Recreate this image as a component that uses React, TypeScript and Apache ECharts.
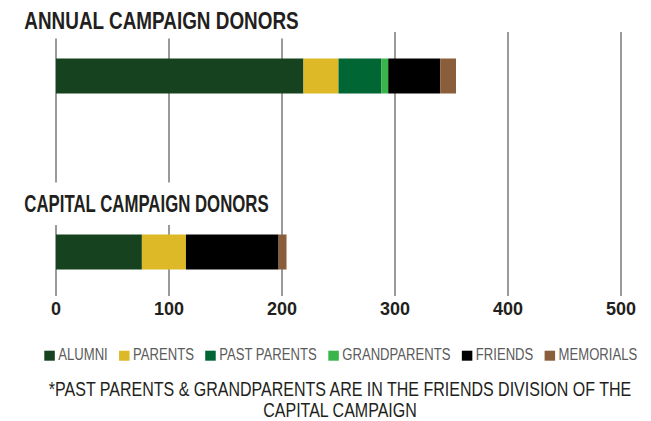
import React, { useEffect, useRef } from "react";
import * as echarts from "echarts";

const categories = ["ANNUAL CAMPAIGN DONORS", "CAPITAL CAMPAIGN DONORS"];
const seriesNames = ["ALUMNI", "PARENTS", "PAST PARENTS", "GRANDPARENTS", "FRIENDS", "MEMORIALS"];
const alumni = [219, 76];
const parents = [31, 39];
const pastParents = [38, 0];
const grandparents = [6, 0];
const friends = [46, 82];
const memorials = [14, 7];
const xTicks = [0, 100, 200, 300, 400, 500];
const footnoteLines = [
  "*PAST PARENTS & GRANDPARENTS ARE IN THE FRIENDS DIVISION OF THE",
  "CAPITAL CAMPAIGN",
];

const seriesValues = [alumni, parents, pastParents, grandparents, friends, memorials];
const colors = ["#164220", "#deb927", "#006634", "#3ab54a", "#000000", "#8a5d3b"];

// category axis slots: the two bars sit in slots 1 and 7 of a 9-slot band axis
const SLOT_COUNT = 9;
const categorySlots = [1, 7];

const FONT = '"Liberation Sans", Arial, sans-serif';

function measure(text: string, font: string): number {
  const ctx = document.createElement("canvas").getContext("2d");
  if (!ctx) return 1;
  ctx.font = font;
  return ctx.measureText(text).width;
}

export default function App() {
  const ref = useRef<HTMLDivElement>(null);

  useEffect(() => {
    document.body.style.margin = "0";
    if (!ref.current) return;
    const chart = echarts.init(ref.current, null, { renderer: "svg" });

    const slotLabels: string[] = Array(SLOT_COUNT).fill("");
    categorySlots.forEach((s, i) => (slotLabels[s] = categories[i]));

    const series = seriesNames.map((name, si) => {
      const data: (number | null)[] = Array(SLOT_COUNT).fill(null);
      categorySlots.forEach((s, ci) => (data[s] = seriesValues[si][ci]));
      return {
        name,
        type: "bar",
        stack: "total",
        barWidth: 35,
        data,
        itemStyle: { color: colors[si] },
        emphasis: { disabled: true },
      };
    });

    const graphics: any[] = [];

    // titles (with white backdrops that interrupt the grid lines, as in the original)
    const titleFont = `bold 24px ${FONT}`;
    const titleTargets = [
      { x: 24.3, y: 20.5, w: 275, rect: { x: 0, y: 0, width: 305, height: 38.5 } },
      { x: 24.3, y: 203.7, w: 245, rect: { x: 0, y: 182.5, width: 276, height: 42.5 } },
    ];
    categories.forEach((c, i) => {
      const t = titleTargets[i];
      graphics.push({
        type: "rect",
        z: 100,
        shape: t.rect,
        style: { fill: "#ffffff" },
        silent: true,
      });
      graphics.push({
        type: "text",
        z: 101,
        x: t.x,
        y: t.y,
        scaleX: t.w / measure(c, titleFont),
        style: {
          text: c,
          fontFamily: FONT,
          fontWeight: "bold",
          fontSize: 24,
          fill: "#231f20",
          textAlign: "left",
          textVerticalAlign: "middle",
        },
        silent: true,
      });
    });

    // legend
    const legendFont = `17px ${FONT}`;
    const legendTextTotal = 453;
    const measuredTotal = seriesNames.reduce((a, n) => a + measure(n, legendFont), 0);
    const legendScale = legendTextTotal / measuredTotal;
    let lx = 44.3;
    seriesNames.forEach((name, i) => {
      graphics.push({
        type: "rect",
        z: 101,
        shape: { x: lx, y: 350.7, width: 10.5, height: 10 },
        style: { fill: colors[i] },
        silent: true,
      });
      const tx = lx + 14;
      graphics.push({
        type: "text",
        z: 101,
        x: tx,
        y: 354,
        scaleX: legendScale,
        style: {
          text: name,
          fontFamily: FONT,
          fontSize: 17,
          fill: "#5b5b5b",
          textAlign: "left",
          textVerticalAlign: "middle",
        },
        silent: true,
      });
      lx = tx + measure(name, legendFont) * legendScale + 11.2;
    });

    // footnote
    const noteFont = `20px ${FONT}`;
    const noteScale = 584 / measure(footnoteLines[0], noteFont);
    footnoteLines.forEach((line, i) => {
      graphics.push({
        type: "text",
        z: 101,
        x: 340,
        y: 389 + i * 21.5,
        scaleX: noteScale,
        style: {
          text: line,
          fontFamily: FONT,
          fontSize: 20,
          fill: "#231f20",
          textAlign: "center",
          textVerticalAlign: "middle",
        },
        silent: true,
      });
    });

    chart.setOption({
      animation: false,
      grid: { left: 56, right: 30, top: 32, height: 264, containLabel: false },
      xAxis: {
        type: "value",
        min: xTicks[0],
        max: xTicks[xTicks.length - 1],
        interval: xTicks[1] - xTicks[0],
        axisLine: { show: false },
        axisTick: { show: false },
        splitLine: { show: true, lineStyle: { color: "#9a9a9a", width: 2 } },
        axisLabel: {
          margin: 4,
          fontFamily: FONT,
          fontWeight: "bold",
          fontSize: 18,
          color: "#231f20",
        },
      },
      yAxis: {
        type: "category",
        inverse: true,
        data: slotLabels,
        axisLine: { show: false },
        axisTick: { show: false },
        axisLabel: { show: false },
        splitLine: { show: false },
      },
      series,
      graphic: { elements: graphics },
    });

    return () => chart.dispose();
  }, []);

  return <div ref={ref} style={{ width: 651, height: 421 }} />;
}
